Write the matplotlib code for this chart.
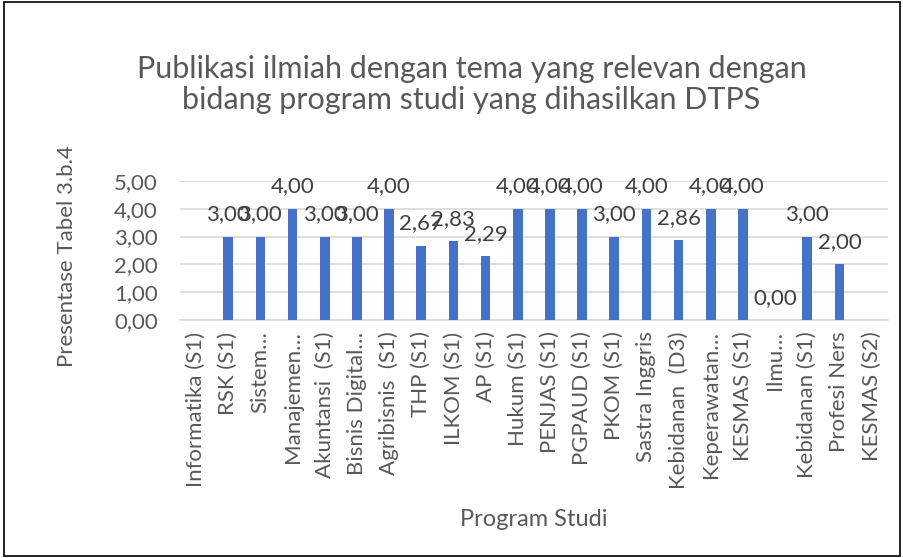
import numpy as np
import matplotlib
matplotlib.use("Agg")
import matplotlib.pyplot as plt

categories = [
    "Informatika (S1)", "RSK (S1)", "Sistem…", "Manajemen…",
    "Akuntansi  (S1)", "Bisnis Digital…", "Agribisnis  (S1)", "THP (S1)",
    "ILKOM (S1)", "AP (S1)", "Hukum (S1)", "PENJAS (S1)", "PGPAUD (S1)",
    "PKOM (S1)", "Sastra Inggris", "Kebidanan  (D3)", "Keperawatan…",
    "KESMAS (S1)", "Ilmu…", "Kebidanan (S1)", "Profesi Ners", "KESMAS (S2)",
]
values = [
    np.nan, 3.00, 3.00, 4.00, 3.00, 3.00, 4.00, 2.67, 2.83, 2.29, 4.00,
    4.00, 4.00, 3.00, 4.00, 2.86, 4.00, 4.00, 0.00, 3.00, 2.00, np.nan,
]
yticks = [0, 1, 2, 3, 4, 5]

plt.rcParams["font.family"] = ["Lato", "DejaVu Sans"]
grey = "#595959"

fig = plt.figure(figsize=(9.04, 5.58), dpi=100)
fig.patches.append(
    plt.Rectangle((0.004, 0.004), 0.992, 0.992, transform=fig.transFigure,
                  fill=False, edgecolor="black", linewidth=1.2)
)
ax = fig.add_axes([0.199, 0.426, 0.783, 0.25])

x = np.arange(len(categories))
ax.bar(x, values, width=0.3, color="#4472C4", zorder=3)

for xi, v in zip(x, values):
    if np.isnan(v):
        continue
    ax.annotate(
        f"{v:.2f}".replace(".", ","), (xi, v),
        xytext=(0, 9), textcoords="offset points",
        ha="center", va="bottom", fontsize=16, color="#404040", zorder=4
    )

ax.set_xlim(-0.5, len(categories) - 0.5)
ax.set_ylim(0, 5)
ax.set_yticks(yticks)
ax.set_yticklabels([f"{t:.2f}".replace(".", ",") for t in yticks],
                   fontsize=16, color=grey)
ax.set_xticks(x)
ax.set_xticklabels(categories, rotation=90, fontsize=16, color=grey)
ax.tick_params(axis="x", length=0, pad=8)
ax.tick_params(axis="y", length=0, pad=16)
ax.yaxis.grid(True, color="#D9D9D9", linewidth=1.2, zorder=0)
for s in ["top", "right", "left"]:
    ax.spines[s].set_visible(False)
ax.spines["bottom"].set_color("#D9D9D9")
ax.spines["bottom"].set_linewidth(1.2)

ax.set_ylabel("Presentase Tabel 3.b.4", fontsize=16, color=grey, va="center")
ax.yaxis.set_label_coords(-0.16, 0.46)
ax.set_xlabel("Program Studi", fontsize=17, color=grey, va="center")
ax.xaxis.set_label_coords(0.50, -1.43)

fig.text(0.5216, 0.849,
         "Publikasi ilmiah dengan tema yang relevan dengan\n"
         "bidang program studi yang dihasilkan DTPS",
         ha="center", va="center", fontsize=22, color=grey, linespacing=1.15)

fig.savefig("out.png", dpi=100)
plt.close(fig)
